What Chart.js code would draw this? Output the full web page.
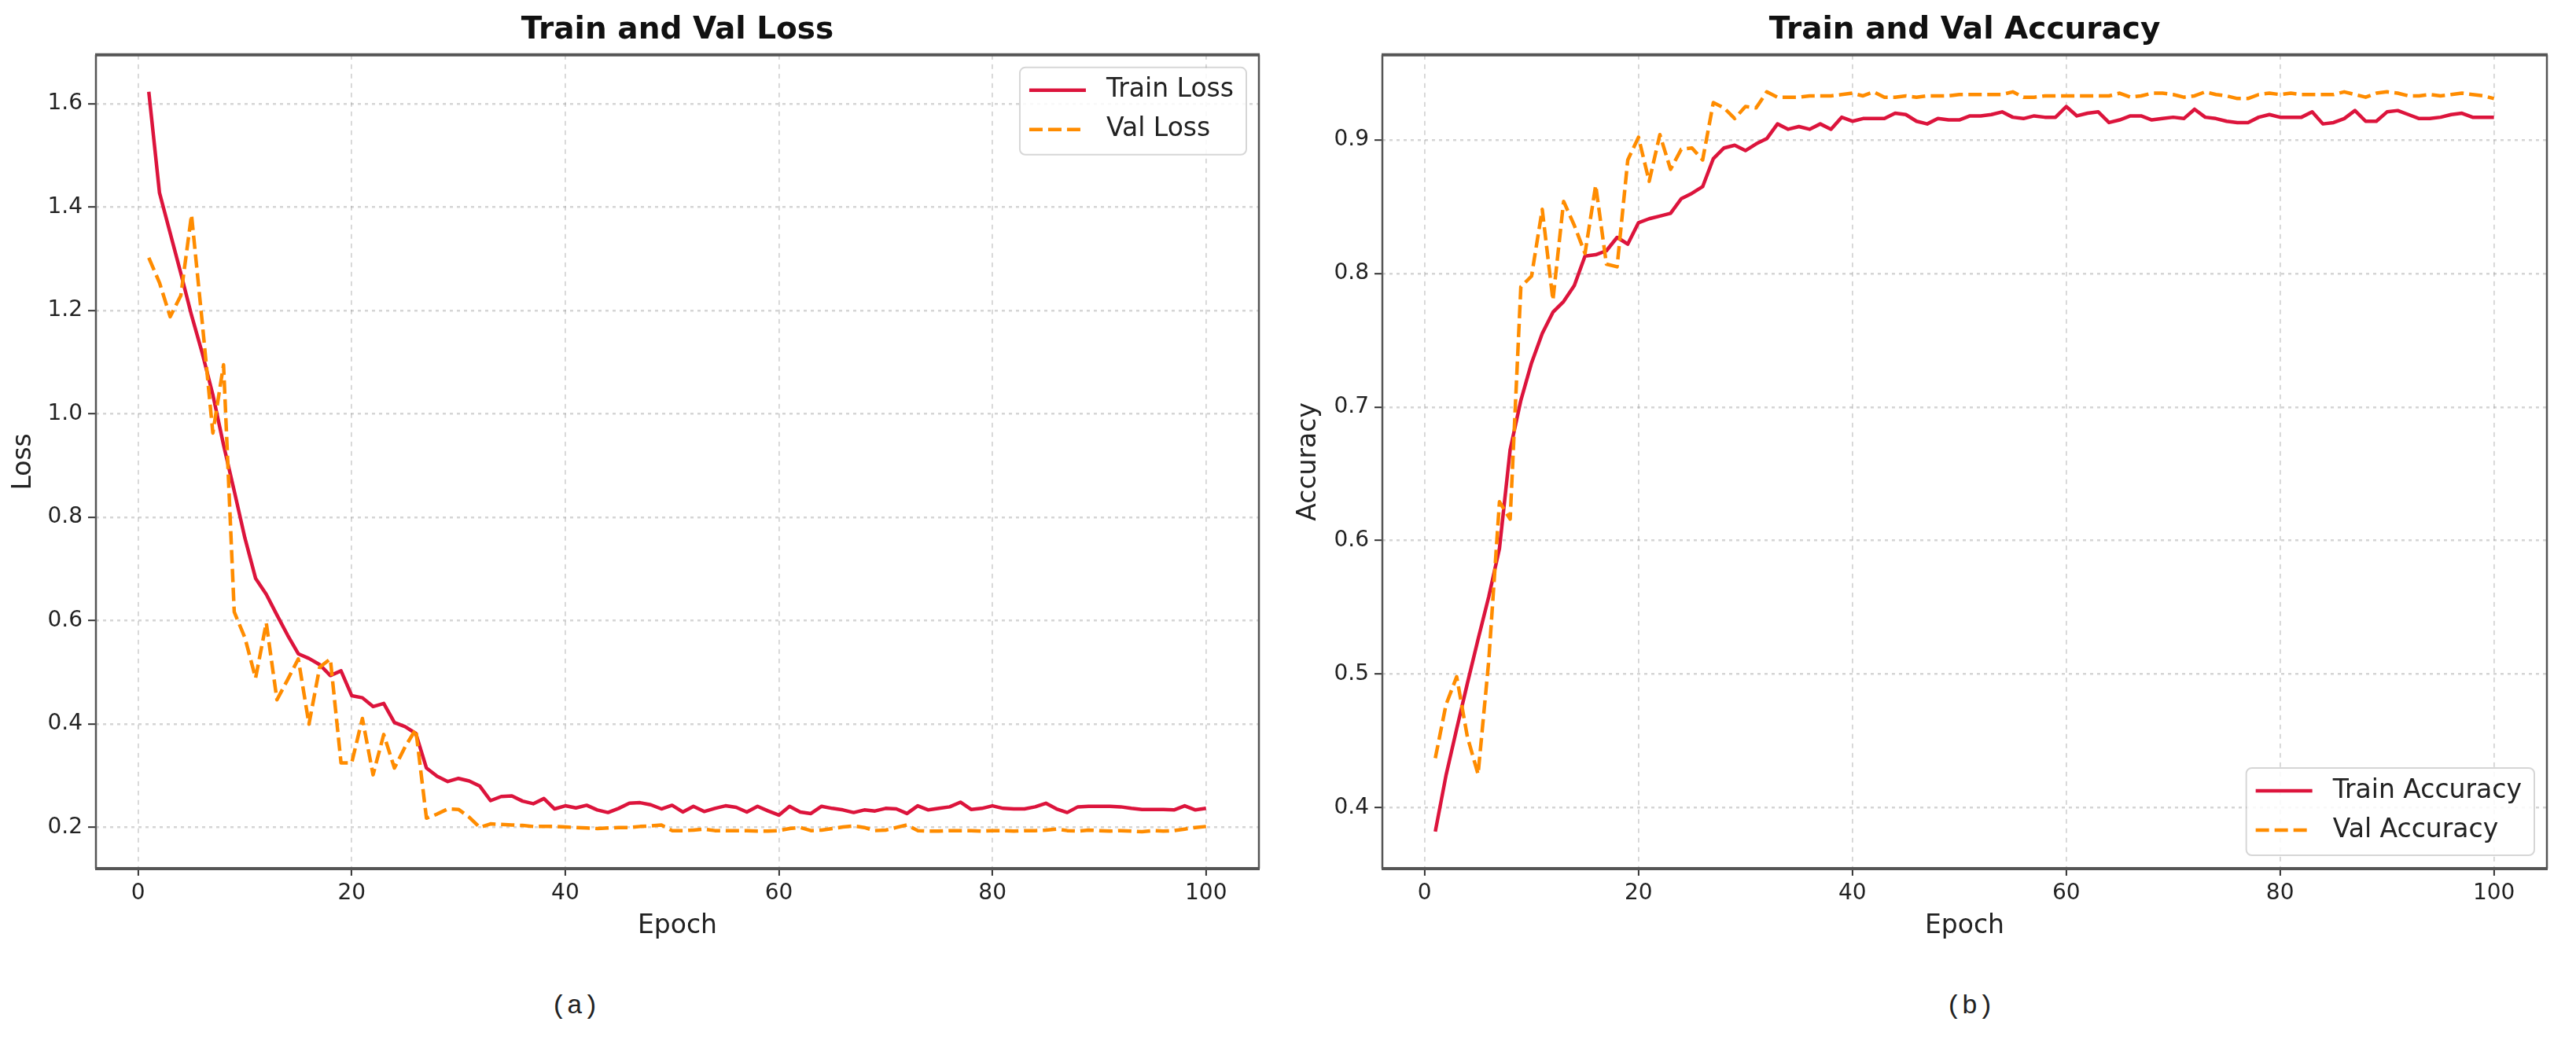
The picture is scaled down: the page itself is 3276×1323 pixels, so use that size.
<!DOCTYPE html>
<html>
<head>
<meta charset="utf-8">
<script src="https://cdn.jsdelivr.net/npm/chart.js@4.4.1/dist/chart.umd.min.js"></script>
<style>
  html, body { margin: 0; padding: 0; background: #fff; }
  body { width: 3276px; height: 1323px; position: relative; overflow: hidden; }
  canvas { position: absolute; top: 0; }
  #lossChart { left: 0; }
  #accChart { left: 1638px; }
  .caption { position: absolute; top: 1280px; transform: translate(-50%, -50%); font: 34px "Liberation Mono", monospace; color: #222; }
</style>
</head>
<body>
<canvas id="lossChart" width="1638" height="1215"></canvas>
<canvas id="accChart" width="1638" height="1215"></canvas>
<div class="caption" style="left:731px">(a)</div>
<div class="caption" style="left:2505px">(b)</div>
<script>
// epoch numbers 1..100 (x categories)
const epochs = Array.from({ length: 100 }, (_, i) => i + 1);

const trainLoss = [
    1.623, 1.428, 1.350, 1.272, 1.191, 1.118, 1.037, 0.940, 0.851, 0.760,
    0.682, 0.651, 0.611, 0.572, 0.536, 0.527, 0.515, 0.494, 0.503, 0.455,
    0.451, 0.434, 0.440, 0.403, 0.395, 0.382, 0.315, 0.299, 0.289, 0.295,
    0.290, 0.280, 0.252, 0.260, 0.261, 0.251, 0.246, 0.256, 0.236, 0.242,
    0.238, 0.243, 0.234, 0.229, 0.237, 0.247, 0.248, 0.244, 0.236, 0.243,
    0.230, 0.241, 0.231, 0.237, 0.242, 0.239, 0.230, 0.241, 0.232, 0.224,
    0.241, 0.230, 0.227, 0.241, 0.237, 0.234, 0.229, 0.234, 0.232, 0.237,
    0.236, 0.227, 0.242, 0.234, 0.237, 0.240, 0.249, 0.235, 0.237, 0.242,
    0.237, 0.236, 0.236, 0.240, 0.247, 0.236, 0.229, 0.240, 0.241, 0.241,
    0.241, 0.240, 0.237, 0.235, 0.235, 0.235, 0.234, 0.242, 0.234, 0.237
];
const valLoss = [
    1.302, 1.254, 1.188, 1.229, 1.385, 1.178, 0.963, 1.095, 0.617, 0.567,
    0.489, 0.596, 0.447, 0.486, 0.526, 0.400, 0.510, 0.526, 0.325, 0.325,
    0.411, 0.302, 0.380, 0.315, 0.356, 0.390, 0.218, 0.226, 0.236, 0.235,
    0.220, 0.200, 0.207, 0.206, 0.205, 0.204, 0.202, 0.202, 0.202, 0.201,
    0.200, 0.199, 0.198, 0.199, 0.200, 0.200, 0.202, 0.203, 0.205, 0.194,
    0.194, 0.195, 0.197, 0.194, 0.194, 0.194, 0.194, 0.193, 0.193, 0.194,
    0.198, 0.200, 0.194, 0.195, 0.198, 0.201, 0.203, 0.200, 0.194, 0.195,
    0.200, 0.205, 0.194, 0.193, 0.193, 0.194, 0.194, 0.194, 0.193, 0.194,
    0.194, 0.193, 0.194, 0.194, 0.195, 0.197, 0.194, 0.193, 0.195, 0.194,
    0.193, 0.194, 0.193, 0.192, 0.194, 0.193, 0.194, 0.197, 0.200, 0.202
];
const trainAcc = [
    0.382, 0.424, 0.459, 0.493, 0.526, 0.558, 0.594, 0.668, 0.705, 0.733,
    0.755, 0.771, 0.779, 0.791, 0.813, 0.814, 0.817, 0.827, 0.822, 0.838,
    0.841, 0.843, 0.845, 0.856, 0.860, 0.865, 0.886, 0.894, 0.896, 0.892,
    0.897, 0.901, 0.912, 0.908, 0.910, 0.908, 0.912, 0.908, 0.917, 0.914,
    0.916, 0.916, 0.916, 0.920, 0.919, 0.914, 0.912, 0.916, 0.915, 0.915,
    0.918, 0.918, 0.919, 0.921, 0.917, 0.916, 0.918, 0.917, 0.917, 0.925,
    0.918, 0.920, 0.921, 0.913, 0.915, 0.918, 0.918, 0.915, 0.916, 0.917,
    0.916, 0.923, 0.917, 0.916, 0.914, 0.913, 0.913, 0.917, 0.919, 0.917,
    0.917, 0.917, 0.921, 0.912, 0.913, 0.916, 0.922, 0.914, 0.914, 0.921,
    0.922, 0.919, 0.916, 0.916, 0.917, 0.919, 0.920, 0.917, 0.917, 0.917
];
const valAcc = [
    0.437, 0.477, 0.498, 0.453, 0.425, 0.510, 0.629, 0.616, 0.790, 0.798,
    0.848, 0.780, 0.854, 0.836, 0.815, 0.866, 0.807, 0.805, 0.885, 0.902,
    0.869, 0.904, 0.878, 0.893, 0.894, 0.885, 0.928, 0.924, 0.916, 0.925,
    0.924, 0.936, 0.932, 0.932, 0.932, 0.933, 0.933, 0.933, 0.934, 0.935,
    0.933, 0.936, 0.932, 0.932, 0.933, 0.932, 0.933, 0.933, 0.933, 0.934,
    0.934, 0.934, 0.934, 0.934, 0.936, 0.932, 0.932, 0.933, 0.933, 0.933,
    0.933, 0.933, 0.933, 0.933, 0.935, 0.932, 0.933, 0.935, 0.935, 0.934,
    0.932, 0.933, 0.936, 0.934, 0.933, 0.931, 0.931, 0.934, 0.935, 0.934,
    0.935, 0.934, 0.934, 0.934, 0.934, 0.936, 0.934, 0.932, 0.935, 0.936,
    0.935, 0.933, 0.933, 0.934, 0.933, 0.934, 0.935, 0.934, 0.933, 0.931
];

const epochTicks = [0, 20, 40, 60, 80, 100];
const lossTicks = [0.2, 0.4, 0.6, 0.8, 1.0, 1.2, 1.4, 1.6];
const accTicks = [0.4, 0.5, 0.6, 0.7, 0.8, 0.9];

const FONT = '"DejaVu Sans", sans-serif';
const TEXT = '#222';
const TRAIN_COLOR = '#dc143c';
const VAL_COLOR = '#ff8c00';

// axis limits with a 5% margin, the way matplotlib pads them
function padded(arrs) {
    const all = [].concat(...arrs);
    const lo = Math.min(...all), hi = Math.max(...all);
    const m = (hi - lo) * 0.05;
    return [lo - m, hi + m];
}

// box around the plot area, drawn over the lines
const framePlugin = {
    id: 'frame',
    afterDatasetsDraw(chart) {
        const { ctx, chartArea: a } = chart;
        ctx.save();
        ctx.strokeStyle = '#555';
        ctx.lineWidth = 2.5;
        ctx.beginPath();
        ctx.moveTo(a.left, a.top); ctx.lineTo(a.left, a.bottom);
        ctx.moveTo(a.right, a.top); ctx.lineTo(a.right, a.bottom);
        ctx.stroke();
        ctx.lineWidth = 4;
        ctx.beginPath();
        ctx.moveTo(a.left - 1, a.top); ctx.lineTo(a.right + 1, a.top);
        ctx.moveTo(a.left - 1, a.bottom); ctx.lineTo(a.right + 1, a.bottom);
        ctx.stroke();
        ctx.restore();
    }
};

// legend inside the plot area, in a rounded frame
const legendBox = {
    id: 'legendBox',
    afterDraw(chart, args, opts) {
        const { ctx, chartArea: a } = chart;
        const sets = chart.data.datasets;
        ctx.save();
        ctx.font = '33px ' + FONT;
        const textW = Math.max(...sets.map(d => ctx.measureText(d.label).width));
        const w = 12 + 72 + 26 + textW + 16;
        const h = 111;
        const x = a.right - 16 - w;
        const y = opts.corner === 'lower right' ? a.bottom - 17 - h : a.top + 16;
        ctx.beginPath();
        if (ctx.roundRect) ctx.roundRect(x, y, w, h, 7); else ctx.rect(x, y, w, h);
        ctx.fillStyle = 'rgba(255,255,255,0.85)';
        ctx.fill();
        ctx.lineWidth = 2;
        ctx.strokeStyle = 'rgba(0,0,0,0.16)';
        ctx.stroke();
        sets.forEach((d, i) => {
            const cy = y + 29 + i * 50;
            ctx.beginPath();
            ctx.setLineDash(d.borderDash || []);
            ctx.lineWidth = d.borderWidth;
            ctx.strokeStyle = d.borderColor;
            ctx.moveTo(x + 12, cy);
            ctx.lineTo(x + 84, cy);
            ctx.stroke();
            ctx.setLineDash([]);
            ctx.fillStyle = TEXT;
            ctx.textBaseline = 'middle';
            ctx.fillText(d.label, x + 110, cy);
        });
        ctx.restore();
    }
};

function gridOpts(width, tickLen) {
    return {
        color: 'rgba(150,150,150,0.4)',
        lineWidth: width,
        drawTicks: true,
        tickLength: tickLen,
        tickColor: '#333',
        tickWidth: 2,
        tickBorderDash: []
    };
}

function makeChart(id, cfg) {
    const [yMin, yMax] = padded([cfg.train, cfg.val]);
    const [xMin, xMax] = padded([epochs]);
    return new Chart(document.getElementById(id), {
        type: 'line',
        data: {
            labels: epochs,
            datasets: [{
                label: cfg.trainLabel,
                data: cfg.train,
                borderColor: TRAIN_COLOR,
                backgroundColor: TRAIN_COLOR,
                borderWidth: 4.5,
                borderJoinStyle: 'round',
                pointRadius: 0,
                tension: 0,
                order: 1
            }, {
                label: cfg.valLabel,
                data: cfg.val,
                borderColor: VAL_COLOR,
                backgroundColor: VAL_COLOR,
                borderWidth: 4.5,
                borderDash: [17, 7],
                borderJoinStyle: 'round',
                pointRadius: 0,
                tension: 0,
                order: 0
            }]
        },
        options: {
            responsive: false,
            animation: false,
            devicePixelRatio: 1,
            layout: { padding: { top: 0, right: 37, bottom: 0, left: 0 } },
            scales: {
                x: {
                    type: 'linear',
                    min: xMin,
                    max: xMax,
                    afterBuildTicks: s => { s.ticks = epochTicks.map(v => ({ value: v })); },
                    afterFit: s => { s.height = 110; },
                    ticks: {
                        font: { family: FONT, size: 28 },
                        color: TEXT,
                        padding: 6,
                        callback: v => String(v)
                    },
                    title: {
                        display: true,
                        text: 'Epoch',
                        font: { family: FONT, size: 33 },
                        color: TEXT,
                        padding: { top: 0, bottom: 17 }
                    },
                    grid: gridOpts(1.8, 9),
                    border: { display: false, dash: [6, 6] }
                },
                y: {
                    type: 'linear',
                    min: yMin,
                    max: yMax,
                    afterBuildTicks: s => { s.ticks = cfg.ticks.map(v => ({ value: v })); },
                    afterFit: s => { s.width = cfg.axisWidth; },
                    ticks: {
                        font: { family: FONT, size: 28 },
                        color: TEXT,
                        padding: 7,
                        callback: v => v.toFixed(1)
                    },
                    title: {
                        display: true,
                        text: cfg.yTitle,
                        font: { family: FONT, size: 33 },
                        color: TEXT,
                        padding: { top: cfg.titlePad, bottom: 0 }
                    },
                    grid: gridOpts(2.4, 10),
                    border: { display: false, dash: [4, 5] }
                }
            },
            plugins: {
                legend: { display: false },
                tooltip: { enabled: false },
                title: {
                    display: true,
                    text: cfg.title,
                    fullSize: false,
                    color: '#111',
                    font: { family: FONT, size: 39, weight: 'bold' },
                    padding: { top: 15, bottom: 8 }
                },
                legendBox: { corner: cfg.corner }
            }
        },
        plugins: [framePlugin, legendBox]
    });
}

makeChart('lossChart', {
    title: 'Train and Val Loss',
    yTitle: 'Loss',
    train: trainLoss,
    val: valLoss,
    trainLabel: 'Train Loss',
    valLabel: 'Val Loss',
    ticks: lossTicks,
    axisWidth: 122,
    titlePad: 11,
    corner: 'upper right'
});

makeChart('accChart', {
    title: 'Train and Val Accuracy',
    yTitle: 'Accuracy',
    train: trainAcc,
    val: valAcc,
    trainLabel: 'Train Accuracy',
    valLabel: 'Val Accuracy',
    ticks: accTicks,
    axisWidth: 120,
    titlePad: 7,
    corner: 'lower right'
});
</script>
</body>
</html>
